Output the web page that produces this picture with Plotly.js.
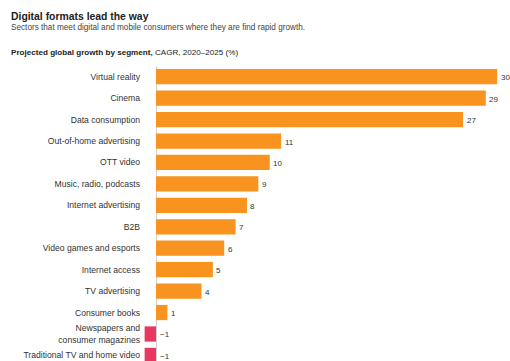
<!DOCTYPE html>
<html>
<head>
<meta charset="utf-8">
<script src="https://cdn.plot.ly/plotly-3.0.1.min.js"></script>
<style>html,body{margin:0;padding:0;background:#fff;}#chart{width:510px;height:361px;}</style>
</head>
<body>
<div id="chart"></div>
<script>
const categories = [
  "Virtual reality",
  "Cinema",
  "Data consumption",
  "Out-of-home advertising",
  "OTT video",
  "Music, radio, podcasts",
  "Internet advertising",
  "B2B",
  "Video games and esports",
  "Internet access",
  "TV advertising",
  "Consumer books",
  "Newspapers and<br>consumer magazines",
  "Traditional TV and home video"
];
const growth = [30, 29, 27, 11, 10, 9, 8, 7, 6, 5, 4, 1, -1, -1];
const valueLabels = growth.map(v => v < 0 ? "\u2212" + Math.abs(v) : String(v));

const ORANGE = "#F7931E";
const PINK = "#E8385F";
const FONT = "Liberation Sans, Arial, sans-serif";

const bars = {
  type: "bar",
  orientation: "h",
  y: categories,
  x: growth,
  marker: {color: growth.map(v => v < 0 ? PINK : ORANGE), line: {width: 0}},
  hoverinfo: "skip",
  cliponaxis: false
};

const W = 367, H = 295;
const px = x => (x - 143) / W;
const py = y => (361 - y) / H;

const valueAnnotations = growth.map((v, i) => ({
  xref: "x", yref: "y", x: Math.max(v, 0), y: categories[i],
  xanchor: "left", yanchor: "middle", xshift: 2.5, yshift: -1,
  text: valueLabels[i], showarrow: false, borderpad: 0,
  font: {family: FONT, size: 8, color: "#333"}
}));

const layout = {
  width: 510, height: 361,
  margin: {l: 143, r: 0, t: 66, b: 0, pad: 0},
  paper_bgcolor: "#fff", plot_bgcolor: "#fff",
  showlegend: false,
  bargap: 0.29,
  font: {family: FONT, color: "#333"},
  xaxis: {
    range: [-1.143, 31.13],
    showgrid: false, showticklabels: false, ticks: "",
    zeroline: true, zerolinecolor: "#d0d0d0", zerolinewidth: 1,
    fixedrange: true
  },
  yaxis: {
    type: "category",
    range: [13.26, -0.5],
    showgrid: false, zeroline: false, ticks: "",
    tickfont: {family: FONT, size: 8.6, color: "#333"},
    ticklabelstandoff: 2,
    fixedrange: true
  },
  annotations: [
    {xref: "paper", yref: "paper", x: px(9), y: py(16), xanchor: "left", yanchor: "middle",
     text: "<b>Digital formats lead the way</b>", showarrow: false,
     font: {family: FONT, size: 10.4, color: "#222"}},
    {xref: "paper", yref: "paper", x: px(9), y: py(27.5), xanchor: "left", yanchor: "middle",
     text: "Sectors that meet digital and mobile consumers where they are find rapid growth.", showarrow: false,
     font: {family: FONT, size: 8.2, color: "#444"}},
    {xref: "paper", yref: "paper", x: px(9), y: py(52.5), xanchor: "left", yanchor: "middle",
     text: "<b>Projected global growth by segment,</b> CAGR, 2020\u20132025 (%)", showarrow: false,
     font: {family: FONT, size: 8.1, color: "#222"}}
  ].concat(valueAnnotations)
};

Plotly.newPlot("chart", [bars], layout, {displayModeBar: false, staticPlot: true});
</script>
</body>
</html>
